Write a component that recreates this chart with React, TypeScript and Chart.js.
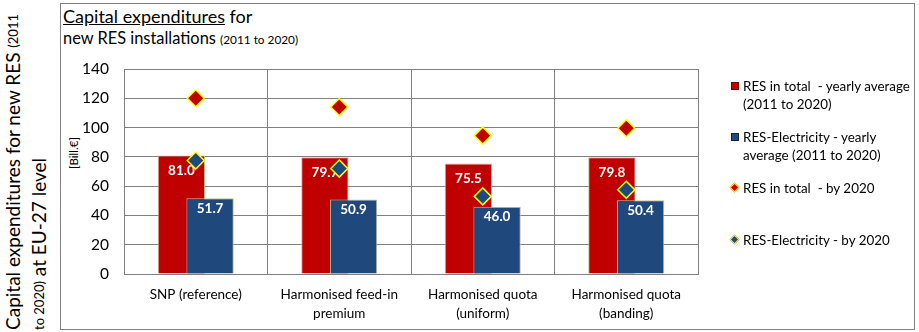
import React, { useEffect, useRef } from "react";
import { Chart, registerables } from "chart.js";

Chart.register(...registerables);

const FONT = 'Lato, "Noto Sans", sans-serif';

const categories: string[][] = [
  ["SNP (reference)"],
  ["Harmonised feed-in", "premium"],
  ["Harmonised quota", "(uniform)"],
  ["Harmonised quota", "(banding)"],
];
const resTotalAvg = [81.0, 79.7, 75.5, 79.8];
const resElecAvg = [51.7, 50.9, 46.0, 50.4];
const resTotal2020 = [120, 114, 94.5, 99.5];
const resElec2020 = [77.5, 72, 53, 57.5];
const yMin = 0;
const yMax = 140;
const yStep = 20;

const RED = "#c00000";
const BLUE = "#1f497d";
const TAN = "#c4bd97";
const GRID = "#808080";
const YELLOW = "#ffff00";

// Red bars sit left (lower order) but blue bars must be painted over them:
// skip blue in the normal pass and paint it right after red, then the labels.
const barLayering = {
  id: "barLayering",
  beforeDatasetDraw(chart: any, args: any) {
    if (args.index === 1 && !chart.$drawingBlue) return false;
    return true;
  },
  afterDatasetDraw(chart: any, args: any) {
    if (args.index !== 0) return;
    const blueMeta = chart.getDatasetMeta(1);
    const ctx = chart.ctx;
    chart.$drawingBlue = true;
    ctx.save();
    blueMeta.controller.draw();
    ctx.restore();
    chart.$drawingBlue = false;

    ctx.save();
    ctx.font = `bold 13.5px ${FONT}`;
    ctx.fillStyle = "#ffffff";
    ctx.textAlign = "center";
    ctx.textBaseline = "middle";
    [0, 1].forEach((di) => {
      const meta = chart.getDatasetMeta(di);
      const off = di === 0 ? 15 : 10;
      meta.data.forEach((bar: any, i: number) => {
        const v = chart.data.datasets[di].data[i] as number;
        ctx.fillText(v.toFixed(1), bar.x, bar.y + off);
      });
    });
    ctx.restore();
  },
};

export default function App() {
  const canvasRef = useRef<HTMLCanvasElement | null>(null);

  useEffect(() => {
    if (!canvasRef.current) return;
    const chart = new Chart(canvasRef.current, {
      type: "bar",
      data: {
        labels: categories as any,
        datasets: [
          {
            type: "bar",
            label: "RES in total - yearly average (2011 to 2020)",
            data: resTotalAvg,
            backgroundColor: RED,
            borderColor: TAN,
            borderWidth: 1,
            categoryPercentage: 0.4,
            barPercentage: 1.65,
            order: 3,
          },
          {
            type: "bar",
            label: "RES-Electricity - yearly average (2011 to 2020)",
            data: resElecAvg,
            backgroundColor: BLUE,
            borderColor: TAN,
            borderWidth: 1,
            categoryPercentage: 0.4,
            barPercentage: 1.65,
            order: 4,
          },
          {
            type: "line",
            label: "RES in total - by 2020",
            data: resTotal2020,
            showLine: false,
            pointStyle: "rectRot",
            pointRadius: 8.5,
            pointBackgroundColor: RED,
            pointBorderColor: YELLOW,
            pointBorderWidth: 1.5,
            order: 2,
          } as any,
          {
            type: "line",
            label: "RES-Electricity - by 2020",
            data: resElec2020,
            showLine: false,
            pointStyle: "rectRot",
            pointRadius: 8.5,
            pointBackgroundColor: BLUE,
            pointBorderColor: YELLOW,
            pointBorderWidth: 1.5,
            order: 1,
          } as any,
        ],
      },
      options: {
        responsive: false,
        animation: false,
        devicePixelRatio: 1,
        layout: { padding: { left: 0, top: 69, right: 221, bottom: 0 } },
        plugins: {
          legend: { display: false },
          tooltip: { enabled: false },
        },
        scales: {
          x: {
            grid: { color: GRID, lineWidth: 1, drawTicks: false, offset: true },
            border: { color: GRID, width: 1 },
            ticks: {
              color: "#000",
              font: { family: FONT, size: 13.5, lineHeight: 1.4 },
              padding: 11,
              maxRotation: 0,
              autoSkip: false,
            },
            afterFit(scale: any) {
              scale.height = 58;
            },
          },
          y: {
            min: yMin,
            max: yMax,
            grid: { color: GRID, lineWidth: 1, drawTicks: false },
            border: { color: GRID, width: 1 },
            ticks: {
              stepSize: yStep,
              color: "#000",
              font: { family: FONT, size: 15.5 },
              padding: 15,
            },
            afterFit(scale: any) {
              scale.width = 124;
            },
          },
        },
      },
      plugins: [barLayering],
    });
    return () => chart.destroy();
  }, []);

  const legendText: React.CSSProperties = {
    position: "absolute",
    left: 743,
    fontFamily: FONT,
    fontSize: 13.4,
    lineHeight: "18px",
    color: "#000",
    whiteSpace: "nowrap",
  };
  const diamond = (bg: string, top: number): React.CSSProperties => ({
    position: "absolute",
    left: 731,
    top,
    width: 5,
    height: 5,
    background: bg,
    border: `1px solid ${YELLOW}`,
    transform: "rotate(45deg)",
  });

  return (
    <div
      style={{
        position: "absolute",
        left: 0,
        top: 0,
        width: 919,
        height: 332,
        overflow: "hidden",
        background: "#fff",
        fontFamily: FONT,
      }}
    >
      <div
        style={{
          position: "absolute",
          left: 60,
          top: 3,
          width: 855,
          height: 327,
          boxSizing: "border-box",
          border: `1px solid ${GRID}`,
        }}
      />
      <div
        style={{
          position: "absolute",
          left: 0,
          top: 0,
          height: 330,
          writingMode: "vertical-rl",
          transform: "rotate(180deg)",
          whiteSpace: "nowrap",
          fontSize: 19,
          lineHeight: "25px",
          color: "#000",
        }}
      >
        Capital expenditures for new RES <span style={{ fontSize: 13 }}>(2011</span>
        <br />
        <span style={{ fontSize: 13 }}>to 2020)</span> at EU-27 level
      </div>
      <div
        style={{
          position: "absolute",
          left: 73,
          top: 153,
          transform: "translate(-50%, -50%) rotate(-90deg)",
          fontSize: 11.5,
          whiteSpace: "nowrap",
          color: "#000",
        }}
      >
        [Bill.€]
      </div>
      <div
        style={{
          position: "absolute",
          left: 63,
          top: 6,
          fontSize: 18,
          lineHeight: "20px",
          whiteSpace: "nowrap",
          color: "#000",
        }}
      >
        <span style={{ textDecoration: "underline" }}>Capital expenditures</span> for
      </div>
      <div
        style={{
          position: "absolute",
          left: 63,
          top: 28,
          fontSize: 16.4,
          lineHeight: "20px",
          whiteSpace: "nowrap",
          color: "#000",
        }}
      >
        new RES installations <span style={{ fontSize: 11.8 }}>(2011 to 2020)</span>
      </div>
      <canvas
        ref={canvasRef}
        width={919}
        height={332}
        style={{ position: "absolute", left: 0, top: 0, width: 919, height: 332 }}
      />
      <div style={{ position: "absolute", left: 731, top: 82, width: 8, height: 8, boxSizing: "border-box", background: RED, border: "1px solid #7f0000" }} />
      <div style={{ ...legendText, top: 77 }}>
        RES in total&nbsp; - yearly average
        <br />
        (2011 to 2020)
      </div>
      <div style={{ position: "absolute", left: 731, top: 133, width: 8, height: 8, boxSizing: "border-box", background: BLUE, border: "1px solid #10243f" }} />
      <div style={{ ...legendText, top: 128 }}>
        RES-Electricity - yearly
        <br />
        average (2011 to 2020)
      </div>
      <div style={diamond(RED, 184)} />
      <div style={{ ...legendText, top: 179 }}>RES in total&nbsp; - by 2020</div>
      <div style={diamond(BLUE, 236)} />
      <div style={{ ...legendText, top: 231 }}>RES-Electricity - by 2020</div>
    </div>
  );
}
